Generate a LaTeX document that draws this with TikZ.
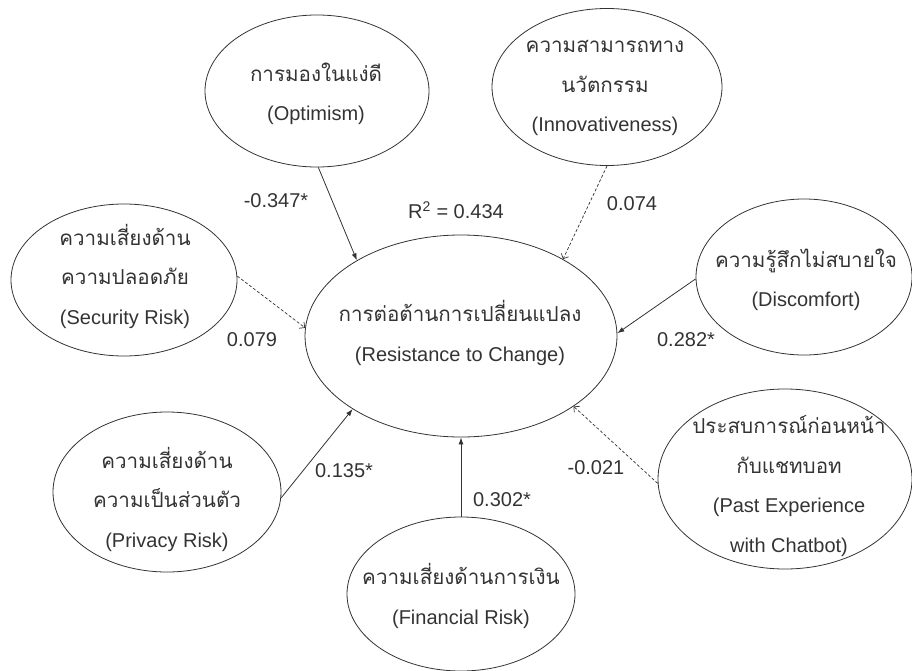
\documentclass[tikz,border=0pt]{standalone}
\usepackage{fontspec}
\setmainfont{Liberation Sans}
\newfontfamily\thaifont[Script=Thai,Scale=1.03]{Loma}
\usetikzlibrary{shapes.geometric,arrows.meta}
\definecolor{ink}{HTML}{333333}
\begin{document}
\begin{tikzpicture}[x=1pt,y=-1pt,
  ell/.style={draw=ink, line width=0.8pt, ellipse, inner sep=0pt},
  lbl/.style={text=ink, font=\fontsize{20}{24}\selectfont, inner sep=0pt},
  txt/.style={text=ink, align=center, font=\fontsize{20}{39.5}\selectfont, inner sep=0pt},
  sol/.style={draw=ink, line width=0.8pt, -{Latex[length=7pt,width=5pt]}},
  dsh/.style={draw=ink, line width=0.7pt, dash pattern=on 3pt off 2pt, -{Straight Barb[length=4pt,width=8pt]}}]
\useasboundingbox (0,0) rectangle (912,671);
% ellipses
\node[ell, minimum width=312pt, minimum height=202pt] (ctr) at (461,336) {};
\node[ell, minimum width=224pt, minimum height=152pt] (opt) at (317,91) {};
\node[ell, minimum width=230pt, minimum height=157pt] (inn) at (607,87) {};
\node[ell, minimum width=226pt, minimum height=152pt] (sec) at (124,280) {};
\node[ell, minimum width=216pt, minimum height=156pt] (dis) at (804,277) {};
\node[ell, minimum width=254pt, minimum height=180pt] (pas) at (785,479) {};
\node[ell, minimum width=228pt, minimum height=160pt] (pri) at (167,492) {};
\node[ell, minimum width=228pt, minimum height=154pt] (fin) at (461,594) {};
% texts
\node[txt] (ctr-t) at (460,333) {{\thaifont การต่อต้านการเปลี่ยนแปลง}\\(Resistance to Change)};
\node[txt] (opt-t) at (316,94) {{\thaifont การมองในแง่ดี}\\(Optimism)};
\node[txt] (inn-t) at (605,88) {{\thaifont ความสามารถทาง}\\{\thaifont นวัตกรรม}\\(Innovativeness)};
\node[txt] (sec-t) at (125,276) {{\thaifont ความเสี่ยงด้าน}\\{\thaifont ความปลอดภัย}\\(Security Risk)};
\node[txt] (dis-t) at (806,280) {{\thaifont ความรู้สึกไม่สบายใจ}\\(Discomfort)};
\node[txt] (pas-t) at (789,486) {{\thaifont ประสบการณ์ก่อนหน้า}\\{\thaifont กับแชทบอท}\\(Past Experience\\with Chatbot)};
\node[txt] (pri-t) at (167,499) {{\thaifont ความเสี่ยงด้าน}\\{\thaifont ความเป็นส่วนตัว}\\(Privacy Risk)};
\node[txt] (fin-t) at (461,596) {{\thaifont ความเสี่ยงด้านการเงิน}\\(Financial Risk)};
% connectors
\draw[sol] (opt.-89) -- (ctr.144);
\draw[dsh] (inn.-90) -- (ctr.37);
\draw[dsh] (sec.2) -- (ctr.177.4);
\draw[sol] (dis.181) -- (ctr.1.5);
\draw[dsh] (pas.182) -- (ctr.-32.6);
\draw[sol] (pri.-3) -- (ctr.-146.4);
\draw[sol] (fin.north) -- (ctr.south);
% labels
\node[lbl] (l-opt) at (276,201) {-0.347*};
\node[lbl] (r2) at (456,210) {R\textsuperscript{2} = 0.434};
\node[lbl] (l-inn) at (632,204) {0.074};
\node[lbl] (l-sec) at (252,340) {0.079};
\node[lbl] (l-dis) at (686,340) {0.282*};
\node[lbl] (l-pri) at (344,471) {0.135*};
\node[lbl] (l-pas) at (596,468) {-0.021};
\node[lbl] (l-fin) at (502,500) {0.302*};
\end{tikzpicture}
\end{document}
